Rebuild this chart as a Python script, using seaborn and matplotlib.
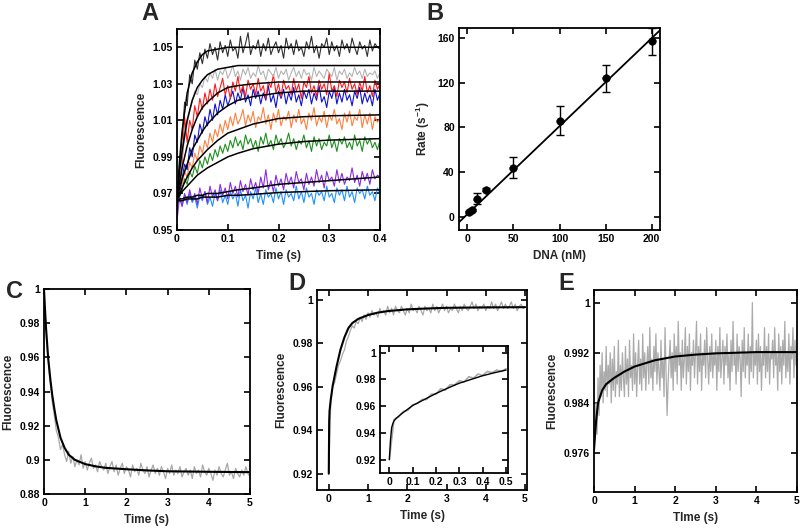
import numpy as np
import matplotlib
matplotlib.use("Agg")
import matplotlib.pyplot as plt
import matplotlib.ticker as mticker
import seaborn as sns

# ============================
# DATA - panel A (raw traces, 0 - 0.4 s)
# ============================
a_black = [0.960, 0.985, 1.000, 1.020, 1.018, 1.035, 1.030, 1.043, 1.038, 1.047, 1.041, 1.049, 1.044, 1.052, 1.046,
           1.050, 1.043, 1.053, 1.047, 1.051, 1.045, 1.054, 1.048, 1.050, 1.044, 1.056, 1.047, 1.052, 1.058, 1.046,
           1.051, 1.049, 1.054, 1.045, 1.052, 1.048, 1.055, 1.046, 1.050, 1.053, 1.047, 1.051, 1.044, 1.055, 1.049,
           1.052, 1.046, 1.054, 1.048, 1.050, 1.045, 1.053, 1.049, 1.056, 1.047, 1.051, 1.044, 1.052, 1.050, 1.055,
           1.046, 1.053, 1.048, 1.051, 1.045, 1.054, 1.049, 1.052, 1.047, 1.055, 1.050, 1.046, 1.053, 1.049, 1.051,
           1.045, 1.054, 1.048, 1.052, 1.050, 1.049]
a_gray = [0.965, 0.975, 0.990, 1.000, 1.008, 1.015, 1.020, 1.026, 1.024, 1.030, 1.028, 1.034, 1.031, 1.036, 1.033,
          1.038, 1.032, 1.037, 1.035, 1.039, 1.033, 1.036, 1.040, 1.034, 1.037, 1.032, 1.038, 1.035, 1.039, 1.033,
          1.036, 1.034, 1.040, 1.035, 1.037, 1.032, 1.038, 1.036, 1.034, 1.039, 1.033, 1.037, 1.035, 1.038, 1.032,
          1.036, 1.039, 1.034, 1.037, 1.033, 1.038, 1.035, 1.036, 1.032, 1.039, 1.034, 1.037, 1.035, 1.033, 1.038,
          1.036, 1.034, 1.039, 1.032, 1.037, 1.035, 1.038, 1.033, 1.036, 1.034, 1.039, 1.035, 1.037, 1.033, 1.038,
          1.034, 1.036, 1.035, 1.037, 1.033, 1.036]
a_red = [0.962, 0.972, 0.985, 1.012, 0.998, 1.010, 1.005, 1.018, 1.012, 1.022, 1.016, 1.025, 1.019, 1.027, 1.021,
         1.030, 1.023, 1.028, 1.033, 1.024, 1.029, 1.022, 1.031, 1.026, 1.034, 1.025, 1.029, 1.023, 1.032, 1.027,
         1.030, 1.024, 1.033, 1.026, 1.029, 1.022, 1.031, 1.028, 1.035, 1.025, 1.030, 1.023, 1.032, 1.027, 1.029,
         1.024, 1.033, 1.026, 1.030, 1.022, 1.031, 1.028, 1.034, 1.025, 1.029, 1.023, 1.032, 1.027, 1.030, 1.024,
         1.036, 1.026, 1.029, 1.023, 1.032, 1.028, 1.031, 1.025, 1.033, 1.027, 1.030, 1.024, 1.031, 1.026, 1.034,
         1.025, 1.029, 1.023, 1.032, 1.027, 1.030]
a_blue = [0.962, 0.970, 0.978, 0.986, 0.983, 0.995, 0.990, 1.002, 0.998, 1.008, 1.003, 1.012, 1.007, 1.016, 1.010,
          1.019, 1.013, 1.021, 1.016, 1.024, 1.018, 1.022, 1.026, 1.019, 1.025, 1.021, 1.028, 1.020, 1.024, 1.018,
          1.027, 1.022, 1.026, 1.019, 1.025, 1.021, 1.029, 1.020, 1.024, 1.017, 1.026, 1.022, 1.027, 1.019, 1.025,
          1.021, 1.028, 1.020, 1.024, 1.018, 1.026, 1.022, 1.027, 1.019, 1.025, 1.021, 1.029, 1.020, 1.023, 1.017,
          1.026, 1.022, 1.028, 1.019, 1.025, 1.020, 1.027, 1.021, 1.024, 1.018, 1.026, 1.022, 1.028, 1.019, 1.025,
          1.020, 1.024, 1.018, 1.027, 1.021, 1.025]
a_orange = [0.965, 0.972, 0.975, 0.982, 0.979, 0.987, 0.984, 0.992, 0.988, 0.996, 0.992, 0.999, 0.995, 1.003, 0.998,
            1.005, 1.001, 1.008, 1.003, 1.010, 1.005, 1.012, 1.007, 1.014, 1.008, 1.011, 1.016, 1.007, 1.013, 1.009,
            1.015, 1.006, 1.012, 1.010, 1.017, 1.008, 1.013, 1.005, 1.014, 1.009, 1.016, 1.007, 1.012, 1.010, 1.015,
            1.006, 1.013, 1.009, 1.016, 1.008, 1.011, 1.005, 1.014, 1.010, 1.017, 1.007, 1.012, 1.009, 1.015, 1.006,
            1.013, 1.010, 1.016, 1.008, 1.011, 1.005, 1.014, 1.009, 1.015, 1.007, 1.012, 1.010, 1.016, 1.006, 1.013,
            1.008, 1.014, 1.005, 1.012, 1.009, 1.011]
a_green = [0.964, 0.968, 0.972, 0.978, 0.975, 0.982, 0.979, 0.985, 0.981, 0.988, 0.984, 0.990, 0.986, 0.992, 0.988,
           0.994, 0.990, 0.996, 0.992, 0.997, 0.993, 0.999, 0.995, 1.001, 0.996, 0.999, 0.994, 1.002, 0.997, 1.000,
           0.995, 0.999, 0.993, 1.001, 0.997, 1.003, 0.996, 0.999, 0.994, 1.002, 0.997, 1.000, 0.995, 0.998, 1.003,
           0.996, 1.000, 0.994, 0.999, 0.997, 1.002, 0.995, 0.999, 0.993, 1.001, 0.996, 1.000, 0.994, 0.998, 0.996,
           1.002, 0.995, 0.999, 0.993, 1.000, 0.997, 1.001, 0.995, 0.998, 0.994, 1.002, 0.996, 0.999, 0.993, 1.001,
           0.997, 1.000, 0.995, 0.998, 0.994, 0.999]
a_purple = [0.955, 0.968, 0.963, 0.970, 0.965, 0.972, 0.966, 0.970, 0.964, 0.973, 0.967, 0.971, 0.965, 0.974, 0.968,
            0.972, 0.966, 0.975, 0.969, 0.973, 0.967, 0.976, 0.970, 0.974, 0.968, 0.977, 0.971, 0.975, 0.969, 0.978,
            0.972, 0.976, 0.970, 0.979, 0.973, 0.983, 0.972, 0.977, 0.971, 0.980, 0.974, 0.978, 0.972, 0.981, 0.975,
            0.979, 0.973, 0.982, 0.976, 0.978, 0.972, 0.981, 0.975, 0.979, 0.974, 0.983, 0.976, 0.980, 0.973, 0.982,
            0.977, 0.979, 0.974, 0.983, 0.976, 0.981, 0.975, 0.979, 0.977, 0.984, 0.976, 0.980, 0.974, 0.982, 0.977,
            0.981, 0.975, 0.983, 0.978, 0.980, 0.979]
a_ltblue = [0.962, 0.968, 0.963, 0.969, 0.964, 0.970, 0.965, 0.968, 0.962, 0.969, 0.966, 0.971, 0.964, 0.968, 0.963,
            0.970, 0.966, 0.972, 0.965, 0.969, 0.964, 0.971, 0.967, 0.970, 0.963, 0.972, 0.966, 0.969, 0.962, 0.971,
            0.967, 0.973, 0.965, 0.970, 0.964, 0.972, 0.968, 0.970, 0.965, 0.973, 0.967, 0.971, 0.964, 0.972, 0.968,
            0.970, 0.966, 0.974, 0.967, 0.971, 0.965, 0.973, 0.968, 0.970, 0.964, 0.972, 0.969, 0.971, 0.966, 0.974,
            0.968, 0.970, 0.965, 0.973, 0.969, 0.972, 0.966, 0.974, 0.968, 0.971, 0.965, 0.973, 0.970, 0.972, 0.967,
            0.974, 0.969, 0.971, 0.966, 0.973, 0.970]

# fitted curves for panel A
a_fit_t = [0, 0.005, 0.01, 0.02, 0.03, 0.04, 0.05, 0.06, 0.08, 0.10, 0.12, 0.15, 0.2, 0.25, 0.3, 0.4]
a_fit_black = [0.967, 0.988, 1.004, 1.025, 1.036, 1.042, 1.046, 1.048, 1.049, 1.050, 1.050, 1.050, 1.050, 1.050, 1.050, 1.050]
a_fit_gray = [0.967, 0.982, 0.993, 1.010, 1.021, 1.028, 1.032, 1.035, 1.038, 1.039, 1.040, 1.040, 1.040, 1.040, 1.040, 1.040]
a_fit_red = [0.967, 0.976, 0.984, 0.996, 1.005, 1.012, 1.017, 1.020, 1.025, 1.028, 1.029, 1.030, 1.031, 1.031, 1.031, 1.031]
a_fit_blue = [0.967, 0.973, 0.978, 0.986, 0.994, 0.999, 1.004, 1.008, 1.014, 1.018, 1.021, 1.023, 1.025, 1.026, 1.026, 1.026]
a_fit_orange = [0.967, 0.970, 0.973, 0.979, 0.984, 0.988, 0.991, 0.994, 0.999, 1.003, 1.005, 1.008, 1.011, 1.012, 1.0125, 1.013]
a_fit_green = [0.967, 0.969, 0.971, 0.974, 0.977, 0.980, 0.982, 0.984, 0.987, 0.990, 0.992, 0.9945, 0.997, 0.9984, 0.9992, 1.000]
a_fit_purple = [0.966, 0.967, 0.967, 0.968, 0.968, 0.969, 0.969, 0.970, 0.970, 0.971, 0.972, 0.973, 0.975, 0.976, 0.977, 0.979]
a_fit_ltblue = [0.966, 0.966, 0.966, 0.967, 0.967, 0.967, 0.968, 0.968, 0.968, 0.969, 0.969, 0.9695, 0.9705, 0.971, 0.9715, 0.972]

# ============================
# DATA - panel B (rate vs DNA)
# ============================
dna_nm = [2, 5, 10, 20, 50, 100, 150, 200]
rate = [4, 6, 16, 24, 44, 86, 124, 157]
rate_err = [1, 1, 5, 1.5, 9, 13, 12, 12]
b_fit_x = [-9, 209]
b_fit_y = [-5, 167]

# ============================
# DATA - panel C (decay, 0 - 5 s)
# ============================
c_raw = [1.000, 0.975, 0.958, 0.945, 0.934, 0.926, 0.917, 0.913, 0.906, 0.909, 0.903, 0.899, 0.905, 0.898, 0.902,
         0.896, 0.900, 0.897, 0.903, 0.895, 0.899, 0.894, 0.898, 0.901, 0.895, 0.897, 0.893, 0.899, 0.896, 0.894,
         0.898, 0.892, 0.896, 0.899, 0.893, 0.897, 0.891, 0.895, 0.898, 0.892, 0.896, 0.894, 0.890, 0.897, 0.893,
         0.895, 0.891, 0.898, 0.894, 0.892, 0.896, 0.890, 0.894, 0.897, 0.892, 0.895, 0.891, 0.896, 0.893, 0.889,
         0.895, 0.892, 0.897, 0.891, 0.894, 0.892, 0.896, 0.890, 0.893, 0.895, 0.891, 0.894, 0.889, 0.896, 0.892,
         0.894, 0.890, 0.897, 0.893, 0.891, 0.895, 0.892, 0.888, 0.894, 0.891, 0.896, 0.892, 0.890, 0.894, 0.898,
         0.891, 0.893, 0.889, 0.895, 0.892, 0.890, 0.894, 0.891, 0.896, 0.892, 0.890]
c_fit_t = [0, 0.02, 0.05, 0.1, 0.15, 0.2, 0.25, 0.3, 0.4, 0.5, 0.6, 0.75, 1.0, 1.25, 1.5, 2.0, 2.5, 3.0, 4.0, 5.0]
c_fit = [1.0, 0.990, 0.977, 0.960, 0.948, 0.938, 0.930, 0.923, 0.913, 0.907, 0.903, 0.900, 0.8975, 0.8962, 0.8953,
         0.8945, 0.8938, 0.8933, 0.8930, 0.8928]

# ============================
# DATA - panel D (rise, 0 - 5 s, plus 0 - 0.5 s inset)
# ============================
d_raw = [0.920, 0.953, 0.960, 0.962, 0.966, 0.970, 0.972, 0.975, 0.977, 0.981, 0.983, 0.986, 0.988, 0.987, 0.990,
         0.989, 0.992, 0.990, 0.993, 0.991, 0.994, 0.992, 0.995, 0.993, 0.994, 0.992, 0.996, 0.994, 0.995, 0.993,
         0.997, 0.994, 0.996, 0.993, 0.997, 0.995, 0.994, 0.997, 0.995, 0.993, 0.996, 0.994, 0.998, 0.995, 0.996,
         0.994, 0.997, 0.995, 0.993, 0.997, 0.995, 0.996, 0.994, 0.998, 0.995, 0.997, 0.994, 0.996, 0.998, 0.995,
         0.997, 0.994, 0.996, 0.995, 0.998, 0.996, 0.994, 0.997, 0.995, 0.998, 0.996, 0.995, 0.997, 0.999, 0.996,
         0.998, 0.995, 0.997, 0.996, 0.998, 0.995, 0.997, 0.996, 0.999, 0.996, 0.998, 0.995, 0.997, 0.999, 0.996,
         0.998, 0.996, 0.997, 0.999, 0.996, 0.998, 0.995, 0.997, 0.998, 0.996, 0.997]
d_fit_t = [0, 0.01, 0.02, 0.05, 0.1, 0.2, 0.3, 0.4, 0.5, 0.6, 0.75, 1.0, 1.25, 1.5, 2.0, 2.5, 3.0, 4.0, 5.0]
d_fit = [0.920, 0.944, 0.949, 0.954, 0.9605, 0.9695, 0.9772, 0.9828, 0.987, 0.9893, 0.9912, 0.9930, 0.9941, 0.9948,
         0.9956, 0.9960, 0.9963, 0.9965, 0.9966]
d_in_raw = [0.920, 0.950, 0.952, 0.956, 0.957, 0.961, 0.962, 0.965, 0.965, 0.969, 0.969, 0.973, 0.972, 0.976, 0.976,
            0.979, 0.978, 0.982, 0.981, 0.984, 0.983, 0.986, 0.985, 0.987, 0.986, 0.988]
d_in_fit_t = [0, 0.005, 0.01, 0.015, 0.02, 0.03, 0.05, 0.1, 0.15, 0.2, 0.25, 0.3, 0.35, 0.4, 0.45, 0.5]
d_in_fit = [0.920, 0.935, 0.944, 0.947, 0.949, 0.951, 0.954, 0.9605, 0.965, 0.9695, 0.9735, 0.9772, 0.980, 0.9828,
            0.985, 0.987]

# ============================
# DATA - panel E (rise, 0 - 5 s)
# ============================
e_raw = [0.977, 0.980, 0.984, 0.979, 0.988, 0.982, 0.990, 0.985, 0.992, 0.984, 0.989, 0.986, 0.993, 0.985, 0.990, 0.987,
         0.992, 0.984, 0.991, 0.986, 0.993, 0.985, 0.989, 0.987, 0.994, 0.985, 0.990, 0.986, 0.992, 0.988, 0.985, 0.993,
         0.987, 0.991, 0.985, 0.994, 0.988, 0.990, 0.986, 0.995, 0.987, 0.992, 0.985, 0.990, 0.994, 0.987, 0.991, 0.986,
         0.995, 0.988, 0.992, 0.986, 0.990, 0.993, 0.987, 0.996, 0.988, 0.991, 0.986, 0.993, 0.989, 0.995, 0.987, 0.992,
         0.989, 0.986, 0.994, 0.988, 0.991, 0.985, 0.996, 0.989, 0.982, 0.987, 0.991, 0.994, 0.988, 0.992, 0.986, 0.995,
         0.989, 0.993, 0.987, 0.997, 0.990, 0.992, 0.986, 0.994, 0.988, 0.991, 0.996, 0.987, 0.993, 0.989, 0.995, 0.986,
         0.992, 0.990, 0.994, 0.988, 0.992, 0.997, 0.987, 0.993, 0.989, 0.995, 0.986, 0.992, 0.990, 0.994, 0.988, 0.996,
         0.991, 0.987, 0.993, 0.989, 0.995, 0.988, 0.992, 0.990, 0.994, 0.986, 0.993, 0.989, 0.996, 0.988, 0.991, 0.994,
         0.987, 0.993, 0.990, 0.995, 0.988, 0.992, 0.986, 0.994, 0.989, 0.997, 0.990, 0.992, 0.987, 0.995, 0.989, 0.993,
         0.991, 0.985, 0.994, 0.989, 0.996, 0.988, 0.992, 0.990, 0.995, 0.987, 0.993, 0.989, 1.000, 0.988, 0.992, 0.990,
         0.994, 0.987, 0.995, 0.989, 0.993, 0.986, 0.992, 0.990, 0.996, 0.988, 0.993, 0.989, 0.995, 0.987, 0.992, 0.991,
         0.994, 0.988, 0.996, 0.990, 0.992, 0.986, 0.995, 0.989, 0.993, 0.987, 0.994, 0.990, 0.997, 0.988, 0.992, 0.989,
         0.995, 0.987, 0.993, 0.991, 0.996, 0.988, 0.994, 0.990, 0.992]
e_fit_t = [0, 0.05, 0.1, 0.2, 0.3, 0.5, 0.75, 1.0, 1.5, 2.0, 2.5, 3.0, 4.0, 5.0]
e_fit = [0.9765, 0.981, 0.984, 0.986, 0.987, 0.988, 0.989, 0.9898, 0.9908, 0.9914, 0.9917, 0.9919, 0.9921, 0.9921]

# ============================
# STYLE
# ============================
sns.set_theme(style="ticks")
plt.rcParams["font.family"] = ["Liberation Sans", "DejaVu Sans"]
plt.rcParams["font.weight"] = "bold"
plt.rcParams["axes.labelweight"] = "bold"
plt.rcParams["mathtext.fontset"] = "custom"
plt.rcParams["mathtext.rm"] = "Liberation Sans:bold"
plt.rcParams["mathtext.default"] = "rm"

W, H = 800, 529
fig = plt.figure(figsize=(W / 100, H / 100), dpi=100)


def box(l, t, r, b):
    return fig.add_axes([l / W, 1 - b / H, (r - l) / W, (b - t) / H])


def style(ax, xlabel, ylabel, fs=7.5):
    ax.tick_params(direction="in", top=True, right=True, length=4, width=1.2, labelsize=fs, pad=3, colors="black")
    for s in ax.spines.values():
        s.set_linewidth(1.3)
        s.set_color("black")
    ax.set_xlabel(xlabel, fontsize=8.5, labelpad=4)
    ax.set_ylabel(ylabel, fontsize=8.5, labelpad=4)
    ax.xaxis.set_major_formatter(mticker.FormatStrFormatter("%g"))
    ax.yaxis.set_major_formatter(mticker.FormatStrFormatter("%g"))


def trace(ax, y, t_end, color, lw=0.9):
    sns.lineplot(x=np.linspace(0, t_end, len(y)), y=y, ax=ax, color=color, linewidth=lw,
                 estimator=None, sort=False)


def fit(ax, t, y, lw=1.3):
    sns.lineplot(x=t, y=y, ax=ax, color="black", linewidth=lw, estimator=None, sort=False)


# ============================
# A
# ============================
axA = box(177, 29, 380, 230)
for y, c in [(a_ltblue, "#2090ff"), (a_purple, "#8a2be2"), (a_green, "#1f8f1f"), (a_orange, "#ff8040"),
             (a_blue, "#1010d0"), (a_red, "#ff1a1a"), (a_gray, "#b4b4b4"), (a_black, "#303030")]:
    trace(axA, y, 0.4, c, lw=0.8)
for f in [a_fit_black, a_fit_gray, a_fit_red, a_fit_blue, a_fit_orange, a_fit_green, a_fit_purple, a_fit_ltblue]:
    fit(axA, a_fit_t, f, lw=1.1)
axA.set_xlim(0, 0.4)
axA.set_ylim(0.95, 1.06)
axA.set_xticks([0, 0.1, 0.2, 0.3, 0.4])
axA.set_yticks([0.95, 0.97, 0.99, 1.01, 1.03, 1.05])
style(axA, "Time (s)", "Fluorescence")
axA.yaxis.set_major_formatter(mticker.FormatStrFormatter("%.2f"))

# ============================
# B
# ============================
axB = box(459, 28, 660, 230)
sns.lineplot(x=b_fit_x, y=b_fit_y, ax=axB, color="black", linewidth=1.3)
axB.errorbar(dna_nm, rate, yerr=rate_err, fmt="none", ecolor="black", elinewidth=1, capsize=3, capthick=1)
sns.scatterplot(x=dna_nm, y=rate, ax=axB, color="black", s=30, edgecolor="black", zorder=3)
axB.set_xlim(-9, 209)
axB.set_ylim(-12, 169)
axB.set_xticks([0, 50, 100, 150, 200])
axB.set_yticks([0, 40, 80, 120, 160])
style(axB, "DNA (nM)", "Rate (s$^{-1}$)")

# ============================
# C
# ============================
axC = box(44, 289, 250, 494)
trace(axC, c_raw, 5, "#a8a8a8", lw=0.9)
fit(axC, c_fit_t, c_fit, lw=1.5)
axC.set_xlim(0, 5)
axC.set_ylim(0.88, 1.0)
axC.set_xticks([0, 1, 2, 3, 4, 5])
axC.set_yticks([0.88, 0.9, 0.92, 0.94, 0.96, 0.98, 1.0])
style(axC, "Time (s)", "Fluorescence")

# ============================
# D (+ inset)
# ============================
axD = box(317, 290, 527, 490)
trace(axD, d_raw, 5, "#a8a8a8", lw=0.9)
fit(axD, d_fit_t, d_fit, lw=1.5)
axD.set_xlim(-0.3, 5.05)
axD.set_ylim(0.9125, 1.0045)
axD.set_xticks([0, 1, 2, 3, 4, 5])
axD.set_yticks([0.92, 0.94, 0.96, 0.98, 1.0])
style(axD, "Time (s)", "Fluorescence")

axDi = box(380, 346, 508, 473)
trace(axDi, d_in_raw, 0.5, "#a8a8a8", lw=1.2)
fit(axDi, d_in_fit_t, d_in_fit, lw=1.0)
axDi.set_xlim(-0.04, 0.508)
axDi.set_ylim(0.910, 1.005)
axDi.set_xticks([0, 0.1, 0.2, 0.3, 0.4, 0.5])
axDi.set_yticks([0.92, 0.94, 0.96, 0.98, 1.0])
style(axDi, "", "")

# ============================
# E
# ============================
axE = box(594, 290, 797, 492)
trace(axE, e_raw, 5, "#ababab", lw=0.9)
fit(axE, e_fit_t, e_fit, lw=1.5)
axE.set_xlim(0, 5)
axE.set_ylim(0.9698, 1.002)
axE.set_xticks([0, 1, 2, 3, 4, 5])
axE.set_yticks([0.976, 0.984, 0.992, 1.0])
style(axE, "TIme (s)", "Fluorescence")

# ============================
# panel letters
# ============================
for txt, x, y in [("A", 150, 13), ("B", 435, 13), ("C", 14, 292), ("D", 297, 283), ("E", 566, 283)]:
    fig.text(x / W, 1 - y / H, txt, fontsize=17, fontweight="bold", ha="center", va="center")

fig.savefig("out.png", dpi=100)
